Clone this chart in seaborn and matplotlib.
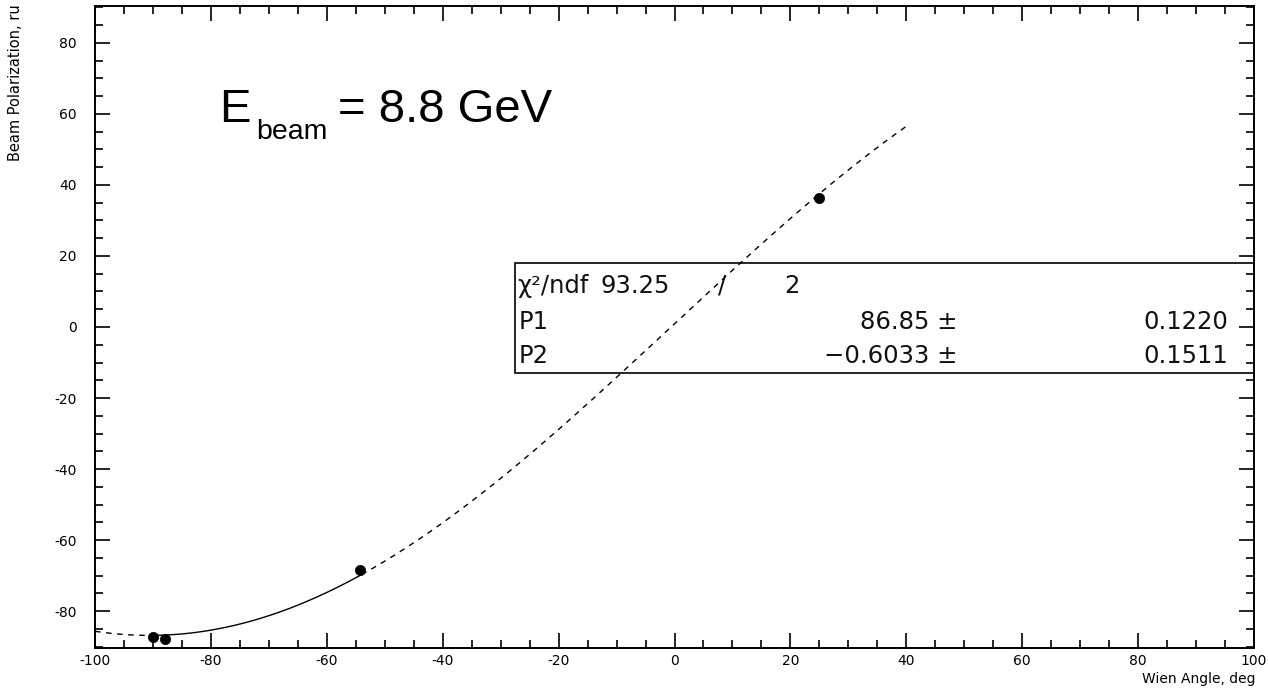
import numpy as np
import pandas as pd
import matplotlib
matplotlib.use("Agg")
import matplotlib.pyplot as plt
from matplotlib.ticker import MultipleLocator
from matplotlib.patches import Rectangle
import seaborn as sns

# ---- data ----
wien_angle = [-90.0, -88.0, -54.2, 25.0]
polarization = [-87.2, -87.8, -68.4, 36.3]
pol_err = [0.8, 0.5, 0.6, 0.6]
fit_p1 = 86.85
fit_p1_err = 0.1220
fit_p2 = -0.6033
fit_p2_err = 0.1511
chi2 = 93.25
ndf = 2
fit_range = [-90.5, -54.0]
draw_range = [-100.0, 40.0]
x_ticks = [-100, -80, -60, -40, -20, 0, 20, 40, 60, 80, 100]
y_ticks = [-80, -60, -40, -20, 0, 20, 40, 60, 80]

sns.set_theme(style="ticks")
plt.rcParams["font.family"] = ["DejaVu Sans"]
plt.rcParams["axes.unicode_minus"] = False
plt.rcParams["text.color"] = "black"
plt.rcParams["xtick.labelcolor"] = "black"
plt.rcParams["ytick.labelcolor"] = "black"

W, H = 1268, 693
fig = plt.figure(figsize=(W / 100, H / 100), dpi=100)
ax_l, ax_r, ax_t, ax_b = 95, 1254, 6, 648
ax = fig.add_axes([ax_l / W, 1 - ax_b / H, (ax_r - ax_l) / W, (ax_b - ax_t) / H])


def px(x, y):
    return x / W, 1 - y / H


def fit(x):
    return fit_p1 * np.sin(np.deg2rad(np.asarray(x) - fit_p2))


# fit curve: dashed outside fit range, solid inside
xa = np.linspace(draw_range[0], fit_range[0], 60)
xb = np.linspace(fit_range[0], fit_range[1], 120)
xc = np.linspace(fit_range[1], draw_range[1], 300)
for xs, ls in [(xa, (0, (4, 4))), (xb, "-"), (xc, (0, (4, 4)))]:
    d = pd.DataFrame({"x": xs, "y": fit(xs)})
    sns.lineplot(data=d, x="x", y="y", ax=ax, color="black", lw=1.0,
                 linestyle=ls, sort=False, estimator=None, zorder=3)

pts = pd.DataFrame({"x": wien_angle, "y": polarization})
ax.errorbar(wien_angle, polarization, yerr=pol_err, fmt="none",
            ecolor="black", elinewidth=1.2, capsize=0, zorder=4)
sns.scatterplot(data=pts, x="x", y="y", ax=ax, color="black", s=55,
                marker="o", edgecolor="black", linewidth=0.5, zorder=5)

ax.set_xlim(-100, 100)
ax.set_ylim(-90.4, 90.4)
ax.set_xticks(x_ticks)
ax.set_yticks(y_ticks)
ax.xaxis.set_minor_locator(MultipleLocator(5))
ax.yaxis.set_minor_locator(MultipleLocator(5))
ax.tick_params(which="both", direction="in", top=True, right=True,
               color="black", width=1.2)
ax.tick_params(which="major", length=11)
ax.tick_params(which="minor", length=5.5)
ax.tick_params(axis="x", which="major", labelsize=10, pad=4)
ax.tick_params(axis="y", which="major", labelsize=10, pad=13)
for s in ax.spines.values():
    s.set_linewidth(1.4)
    s.set_color("black")
ax.set_xlabel("")
ax.set_ylabel("")

fig.text(*px(1256, 672), "Wien Angle, deg", ha="right", va="top", fontsize=10)
fig.text(*px(16, 4), "Beam Polarization, ru", rotation=90, ha="center",
         va="top", fontsize=10.5)

# E_beam annotation
fig.text(*px(219, 122), "E", fontsize=34, family="Liberation Sans", va="baseline")
fig.text(*px(256, 139), "beam", fontsize=20.5, family="Liberation Sans", va="baseline")
fig.text(*px(338, 122), "= 8.8 GeV", fontsize=34, family="Liberation Sans", va="baseline")

# stats box
bx0, by0, bx1, by1 = 515, 263, ax_r, 373
ax.add_patch(Rectangle(((bx0 - ax_l) / (ax_r - ax_l), (ax_b - by1) / (ax_b - ax_t)),
                       (bx1 - bx0) / (ax_r - ax_l), (by1 - by0) / (ax_b - ax_t),
                       transform=ax.transAxes, facecolor="none",
                       edgecolor="black", lw=1.2, zorder=2))
fs = 17.5
col = "#111111"
fig.text(*px(517, 293), "\u03c7\u00b2/ndf", fontsize=fs, color=col, va="baseline")
fig.text(*px(600, 293), f"{chi2:.2f}", fontsize=fs, color=col, va="baseline")
fig.text(*px(722, 293), "/", fontsize=fs, color=col, va="baseline", ha="center")
fig.text(*px(792, 293), f"{ndf}", fontsize=fs, color=col, va="baseline", ha="center")
fig.text(*px(519, 329), "P1", fontsize=fs, color=col, va="baseline")
fig.text(*px(958, 329), f"{fit_p1:.2f} \u00b1", fontsize=fs, color=col, va="baseline", ha="right")
fig.text(*px(1228, 329), f"{fit_p1_err:.4f}", fontsize=fs, color=col, va="baseline", ha="right")
fig.text(*px(519, 363), "P2", fontsize=fs, color=col, va="baseline")
fig.text(*px(958, 363), f"\u2212{abs(fit_p2):.4f} \u00b1", fontsize=fs, color=col, va="baseline", ha="right")
fig.text(*px(1228, 363), f"{fit_p2_err:.4f}", fontsize=fs, color=col, va="baseline", ha="right")

fig.savefig("out.png", dpi=100)
